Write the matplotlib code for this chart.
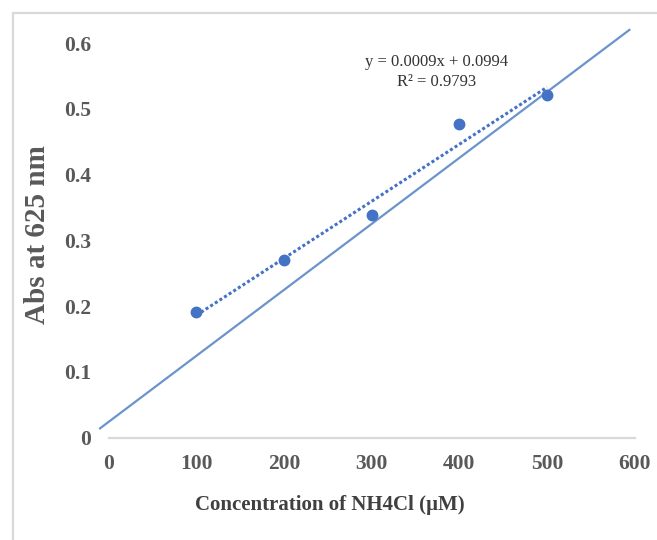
import numpy as np
import matplotlib
matplotlib.use("Agg")
from matplotlib import pyplot as plt
from matplotlib.patches import Rectangle

# data
conc = [100, 200, 300, 400, 500]            # NH4Cl, uM
absorb = [0.191, 0.270, 0.338, 0.477, 0.521]  # Abs at 625 nm
ref_x = [-10, 594]                          # solid reference line ends
ref_y = [0.014, 0.620]
xticks = [0, 100, 200, 300, 400, 500, 600]
yticks = [0, 0.1, 0.2, 0.3, 0.4, 0.5, 0.6]
eq_text = "y = 0.0009x + 0.0994\nR\u00b2 = 0.9793"

SERIF = ["Liberation Serif", "DejaVu Serif"]
GREY = "#595959"

fig = plt.figure(figsize=(6.57, 5.40), dpi=100)
ax = fig.add_axes([0.139, 0.1898, 0.847, 0.767])

# reference line
ax.plot(ref_x, ref_y, '-', color='#6b93cc', linewidth=1.6, zorder=2)

# linear trendline through the points
p = np.polyfit(conc, absorb, 1)
xs = np.array([conc[0], conc[-1]])
ax.plot(xs, np.polyval(p, xs), linestyle=(0, (1, 0.8)), color='#4472c4', linewidth=2.2, zorder=3)

ax.plot(conc, absorb, 'o', color='#4472c4', markersize=7.5, zorder=4)

ax.set_xlim(-20, 615)
ax.set_ylim(0, 0.63)
ax.set_xticks(xticks)
ax.set_xticklabels([str(t) for t in xticks])
ax.set_yticks(yticks)
ax.set_yticklabels(["0" if t == 0 else "{:.1f}".format(t) for t in yticks])
ax.tick_params(axis='x', length=0, pad=12)
ax.tick_params(axis='y', length=0, pad=0)
for lab in ax.get_xticklabels() + ax.get_yticklabels():
    lab.set_family(SERIF)
    lab.set_fontsize(15.5)
    lab.set_fontweight('bold')
    lab.set_color(GREY)

for s in ['top', 'right', 'left']:
    ax.spines[s].set_visible(False)
ax.spines['bottom'].set_color('#d9d9d9')
ax.spines['bottom'].set_linewidth(1.6)
ax.spines['bottom'].set_bounds(0, 600)

# trendline equation
fig.text(437 / 657, 1 - 72 / 540, eq_text, ha='center', va='center',
         family=SERIF, fontsize=12, color='#333333', linespacing=1.25)

fig.text(330 / 657, 1 - 505 / 540, "Concentration of NH4Cl (\u00b5M)", ha='center', va='center',
         family=SERIF, fontsize=15, fontweight='bold', color='#404040')
fig.text(38 / 657, 1 - 235 / 540, "Abs at 625 nm", ha='center', va='center', rotation=90,
         family=SERIF, fontsize=21, fontweight='bold', color=GREY)

# light frame of the chart area (left and top edges visible)
fig.patches.append(Rectangle((13 / 657, -0.1), 1.2, 1.1 - 13 / 540,
                             transform=fig.transFigure, fill=False,
                             edgecolor='#d9d9d9', linewidth=1.6))

fig.savefig("out.png", dpi=100)
